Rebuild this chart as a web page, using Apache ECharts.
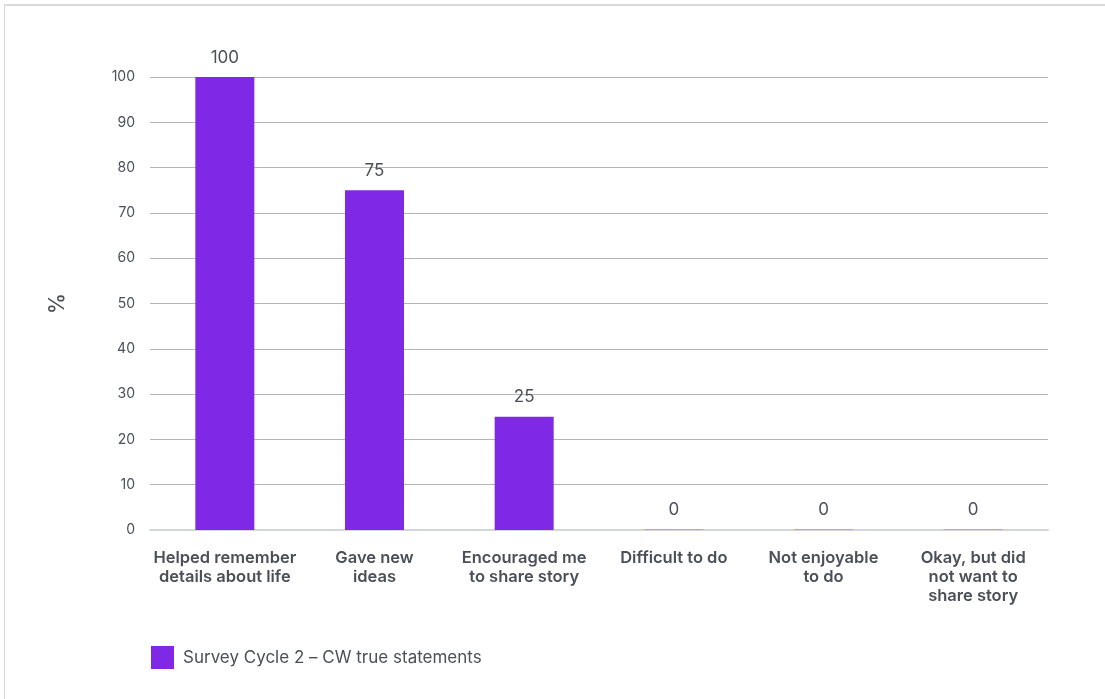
<!DOCTYPE html>
<html>
<head>
<meta charset="utf-8">
<script src="https://cdn.jsdelivr.net/npm/echarts@6/dist/echarts.min.js"></script>
<style>
html,body{margin:0;padding:0;background:#fff;}
#frame{position:absolute;left:4px;top:4px;width:1120px;height:720px;border-top:2px solid #dadadd;border-left:1px solid #d4d6da;box-sizing:border-box;}
#chart{position:absolute;left:0;top:0;width:1105px;height:699px;}
</style>
</head>
<body>
<div id="frame"></div>
<div id="chart"></div>
<script>
const categories = [
  "Helped remember\ndetails about life",
  "Gave new\nideas",
  "Encouraged me\nto share story",
  "Difficult to do",
  "Not enjoyable\nto do",
  "Okay, but did\nnot want to\nshare story"
];
const values = [100, 75, 25, 0, 0, 0];
const seriesName = "Survey Cycle 2 – CW true statements";
const yTicks = [0, 10, 20, 30, 40, 50, 60, 70, 80, 90, 100];

const textColor = '#4b4f58';
const barColor = '#7f28e5';
const font = 'Inter, "Noto Sans", sans-serif';
const chart = echarts.init(document.getElementById('chart'), null, {renderer: 'canvas'});
chart.setOption({
  animation: false,
  textStyle: {fontFamily: font, color: textColor},
  grid: {left: 150, right: 57, top: 77, bottom: 169},
  legend: {
    left: 146, top: 641,
    itemWidth: 23, itemHeight: 23,
    itemGap: 10,
    icon: 'rect',
    itemStyle: {color: barColor},
    textStyle: {fontSize: 17, color: textColor, fontFamily: font, padding: [0, 0, 0, 4]},
    data: [seriesName]
  },
  xAxis: {
    type: 'category',
    data: categories,
    axisTick: {show: false},
    axisLine: {lineStyle: {color: '#d3d6da', width: 2}},
    axisLabel: {fontSize: 16.5, fontWeight: 600, color: textColor, lineHeight: 19, margin: 19, interval: 0, fontFamily: font}
  },
  yAxis: {
    type: 'value',
    min: yTicks[0], max: yTicks[yTicks.length - 1], interval: 10,
    name: '%',
    nameLocation: 'middle',
    nameGap: 82,
    nameTextStyle: {fontSize: 21, fontWeight: 500, color: textColor},
    axisLine: {show: false},
    axisTick: {show: false},
    axisLabel: {fontSize: 14, color: textColor, margin: 15},
    splitLine: {lineStyle: {color: '#b4b4ba', width: 1}}
  },
  series: [{
    name: seriesName,
    type: 'bar',
    data: values,
    barWidth: 59,
    barMinHeight: 1,
    itemStyle: {color: function (p) { return p.value === 0 ? '#b99cf0' : barColor; }},
    label: {show: true, position: 'top', distance: 11, fontSize: 17, color: textColor, fontFamily: font}
  }]
});
</script>
</body>
</html>
